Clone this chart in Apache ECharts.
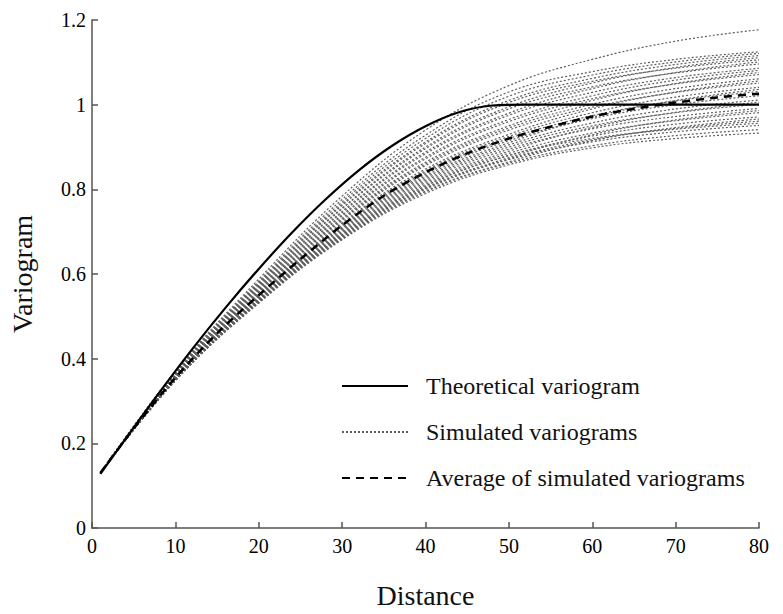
<!DOCTYPE html>
<html>
<head>
<meta charset="utf-8">
<title>Variogram</title>
<script src="https://cdn.jsdelivr.net/npm/echarts@6/dist/echarts.min.js"></script>
<style>
  html, body { margin: 0; padding: 0; background: #fff; }
  #chart { width: 783px; height: 614px; }
</style>
</head>
<body>
<div id="chart"></div>
<script>
// 距离刻度（模拟变异函数的取样点）
const simDistances = [1, 10, 20, 30, 40, 50, 60, 70, 80];

// 理论变异函数（球状模型，读图得到）
const theoryDistances = [1, 4, 8, 12, 16, 20, 24, 28, 32, 36, 40, 44, 48, 52, 56, 80];
const theoryValues = [0.128, 0.21, 0.318, 0.422, 0.52, 0.612, 0.698, 0.776, 0.845, 0.903, 0.949, 0.982, 0.998, 1.0, 1.0, 1.0];

// 模拟变异函数平均值
const averageDistances = [1, 5, 10, 15, 20, 25, 30, 35, 40, 45, 50, 55, 60, 65, 70, 75, 80];
const averageValues = [0.13, 0.235, 0.355, 0.46, 0.55, 0.635, 0.715, 0.785, 0.84, 0.885, 0.92, 0.948, 0.972, 0.99, 1.005, 1.017, 1.026];

// 各条模拟变异函数（对应 simDistances）
const simulatedValues = [
  [0.13, 0.370, 0.588, 0.784, 0.940, 1.045, 1.107, 1.150, 1.177],
  [0.13, 0.368, 0.583, 0.776, 0.928, 1.030, 1.078, 1.107, 1.125],
  [0.13, 0.367, 0.580, 0.770, 0.920, 1.020, 1.070, 1.101, 1.121],
  [0.13, 0.366, 0.577, 0.765, 0.912, 1.010, 1.062, 1.095, 1.116],
  [0.13, 0.365, 0.576, 0.762, 0.908, 1.005, 1.055, 1.086, 1.106],
  [0.13, 0.364, 0.573, 0.756, 0.900, 0.995, 1.051, 1.088, 1.111],
  [0.13, 0.363, 0.571, 0.754, 0.896, 0.990, 1.042, 1.075, 1.096],
  [0.13, 0.362, 0.568, 0.748, 0.888, 0.980, 1.038, 1.076, 1.101],
  [0.13, 0.362, 0.567, 0.745, 0.884, 0.975, 1.029, 1.064, 1.086],
  [0.13, 0.360, 0.564, 0.740, 0.876, 0.965, 1.021, 1.058, 1.081],
  [0.13, 0.360, 0.562, 0.737, 0.872, 0.960, 1.014, 1.049, 1.071],
  [0.13, 0.359, 0.559, 0.732, 0.864, 0.950, 1.010, 1.050, 1.076],
  [0.13, 0.358, 0.558, 0.729, 0.860, 0.945, 1.001, 1.038, 1.061],
  [0.13, 0.357, 0.556, 0.726, 0.856, 0.940, 0.994, 1.029, 1.051],
  [0.13, 0.356, 0.553, 0.721, 0.848, 0.930, 0.990, 1.030, 1.056],
  [0.13, 0.356, 0.552, 0.718, 0.844, 0.925, 0.981, 1.018, 1.041],
  [0.13, 0.355, 0.550, 0.715, 0.840, 0.920, 0.974, 1.009, 1.031],
  [0.13, 0.354, 0.548, 0.712, 0.836, 0.915, 0.967, 1.000, 1.021],
  [0.13, 0.354, 0.547, 0.709, 0.832, 0.910, 0.970, 1.010, 1.036],
  [0.13, 0.353, 0.545, 0.707, 0.828, 0.905, 0.957, 0.990, 1.011],
  [0.13, 0.353, 0.544, 0.704, 0.824, 0.900, 0.950, 0.981, 1.001],
  [0.13, 0.352, 0.542, 0.701, 0.820, 0.895, 0.943, 0.972, 0.991],
  [0.13, 0.351, 0.541, 0.698, 0.816, 0.890, 0.946, 0.982, 1.006],
  [0.13, 0.351, 0.539, 0.696, 0.812, 0.885, 0.933, 0.962, 0.981],
  [0.13, 0.350, 0.538, 0.693, 0.808, 0.880, 0.926, 0.954, 0.971],
  [0.13, 0.350, 0.536, 0.690, 0.804, 0.875, 0.929, 0.964, 0.986],
  [0.13, 0.349, 0.536, 0.689, 0.802, 0.872, 0.917, 0.944, 0.961],
  [0.13, 0.349, 0.535, 0.687, 0.800, 0.870, 0.912, 0.936, 0.951],
  [0.13, 0.348, 0.533, 0.685, 0.796, 0.865, 0.915, 0.946, 0.966],
  [0.13, 0.348, 0.533, 0.683, 0.794, 0.862, 0.903, 0.927, 0.941],
  [0.13, 0.348, 0.531, 0.681, 0.790, 0.858, 0.898, 0.920, 0.933],
  [0.13, 0.350, 0.538, 0.693, 0.808, 0.880, 0.920, 0.942, 0.956]
];

// 轴刻度
const xTicks = { min: 0, max: 80, interval: 10 };
const yTicks = { min: 0, max: 1.2, interval: 0.2 };

const SERIF = '"Liberation Serif", "DejaVu Serif", serif';

// 把 x、y 两个数组拼成 [x, y] 点
function zipPoints(xs, ys) {
  return xs.map((x, i) => [x, ys[i]]);
}

const chart = echarts.init(document.getElementById('chart'), null, { renderer: 'svg' });

// 模拟曲线：灰色点线
const simulatedSeries = simulatedValues.map((vals) => ({
  name: 'Simulated variograms',
  type: 'line',
  data: zipPoints(simDistances, vals),
  smooth: 0.4,
  symbol: 'none',
  silent: true,
  itemStyle: { color: '#5e5e5e' },
  lineStyle: { color: '#5e5e5e', width: 1.2, type: [2, 2] },
  z: 2
}));

const option = {
  animation: false,
  backgroundColor: '#fff',
  grid: { left: 91, right: 24, top: 20, bottom: 69 },
  legend: {
    orient: 'vertical',
    left: 336,
    top: 369,
    itemWidth: 66,
    itemHeight: 14,
    itemGap: 22,
    // 图例里只画线，不画圆点
    itemStyle: { opacity: 0 },
    data: ['Theoretical variogram', 'Simulated variograms', 'Average of simulated variograms'],
    textStyle: { fontFamily: SERIF, fontSize: 24, color: '#111', padding: [0, 0, 0, 13] },
    selectedMode: false
  },
  xAxis: {
    type: 'value',
    min: xTicks.min,
    max: xTicks.max,
    interval: xTicks.interval,
    name: 'Distance',
    nameLocation: 'middle',
    nameGap: 53,
    nameTextStyle: { fontFamily: SERIF, fontSize: 28, color: '#111' },
    axisLine: { lineStyle: { color: '#555', width: 1.5 } },
    axisTick: { inside: true, length: 6, lineStyle: { color: '#555', width: 1.5 } },
    axisLabel: { fontFamily: SERIF, fontSize: 20, color: '#000', margin: 8 },
    splitLine: { show: false }
  },
  yAxis: {
    type: 'value',
    min: yTicks.min,
    max: yTicks.max,
    interval: yTicks.interval,
    name: 'Variogram',
    nameLocation: 'middle',
    nameGap: 56,
    nameTextStyle: { fontFamily: SERIF, fontSize: 28, color: '#111' },
    axisLine: { show: true, lineStyle: { color: '#555', width: 1.5 } },
    axisTick: { show: true, inside: true, length: 6, lineStyle: { color: '#555', width: 1.5 } },
    axisLabel: { fontFamily: SERIF, fontSize: 20, color: '#000', margin: 6 },
    splitLine: { show: false }
  },
  series: [
    {
      name: 'Theoretical variogram',
      type: 'line',
      data: zipPoints(theoryDistances, theoryValues),
      smooth: 0.3,
      symbol: 'none',
      itemStyle: { color: '#000' },
      lineStyle: { color: '#000', width: 2.2, type: 'solid' },
      z: 4
    },
    ...simulatedSeries,
    {
      name: 'Average of simulated variograms',
      type: 'line',
      data: zipPoints(averageDistances, averageValues),
      smooth: 0.3,
      symbol: 'none',
      itemStyle: { color: '#000' },
      lineStyle: { color: '#000', width: 2.5, type: [8, 6] },
      z: 3
    }
  ]
};

chart.setOption(option);
</script>
</body>
</html>
